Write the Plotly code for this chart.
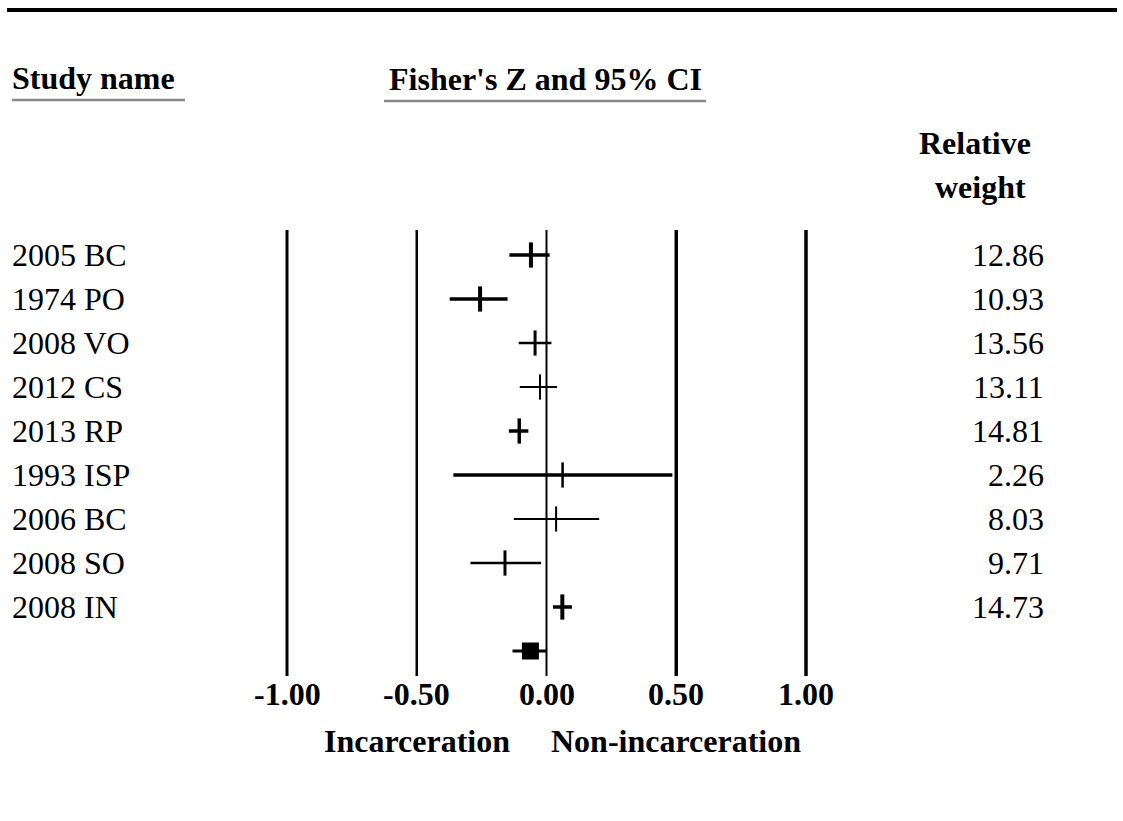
import plotly.graph_objects as go

# ---------------- data ----------------
studies = ["2005 BC", "1974 PO", "2008 VO", "2012 CS", "2013 RP",
           "1993 ISP", "2006 BC", "2008 SO", "2008 IN"]
fisher_z = [-0.060, -0.256, -0.044, -0.025, -0.105, 0.062, 0.037, -0.160, 0.061]
ci_lower = [-0.143, -0.373, -0.107, -0.103, -0.145, -0.359, -0.126, -0.293, 0.025]
ci_upper = [0.012, -0.150, 0.019, 0.041, -0.070, 0.485, 0.203, -0.021, 0.098]
rel_weight = ["12.86", "10.93", "13.56", "13.11", "14.81", "2.26", "8.03", "9.71", "14.73"]

summary_z = -0.062
summary_lower = -0.131
summary_upper = 0.001

tick_values = [-1.0, -0.5, 0.0, 0.5, 1.0]
tick_labels = ["-1.00", "-0.50", "0.00", "0.50", "1.00"]
side_labels = ["Incarceration", "Non-incarceration"]
side_positions = [-0.5, 0.5]

# ---------------- styles ----------------
ci_widths = [3.5, 3.5, 2.5, 2, 3.5, 3.5, 2, 2.5, 3.5]
pt_widths = [4, 4, 3, 2, 3.5, 2.5, 2, 3, 4]
vline_widths = [3, 2.5, 2, 3.5, 3.5]
FONT = "Liberation Serif"
W, H = 1123, 821
ROW0, ROWSTEP = 255, 44  # pixel centre of first row, row spacing


def px2y(py):
    return (py - ROW0) / ROWSTEP


def px(xp):
    return xp / W


def py(yp):
    return 1 - yp / H


fig = go.Figure()

# CI lines
for i in range(len(studies)):
    fig.add_trace(go.Scatter(
        x=[ci_lower[i], ci_upper[i]], y=[i, i], mode="lines",
        line=dict(color="black", width=ci_widths[i]), showlegend=False,
        hoverinfo="skip"))

# point estimates
for i in range(len(studies)):
    fig.add_trace(go.Scatter(
        x=[fisher_z[i]], y=[i], mode="markers",
        marker=dict(symbol="line-ns", size=18,
                    line=dict(color="black", width=pt_widths[i])),
        showlegend=False, hoverinfo="skip"))

# summary
n = len(studies)
fig.add_trace(go.Scatter(
    x=[summary_lower, summary_upper], y=[n, n], mode="lines",
    line=dict(color="black", width=3), showlegend=False, hoverinfo="skip"))
fig.add_trace(go.Scatter(
    x=[summary_z], y=[n], mode="markers",
    marker=dict(symbol="square", size=17, color="black"),
    showlegend=False, hoverinfo="skip"))

# vertical reference lines
for v, w in zip(tick_values, vline_widths):
    fig.add_shape(type="line", xref="x", yref="y", x0=v, x1=v,
                  y0=px2y(230), y1=px2y(676), layer="below",
                  line=dict(color="black", width=w))

# tick labels
for v, t in zip(tick_values, tick_labels):
    fig.add_annotation(x=v, y=px2y(694), xref="x", yref="y", text="<b>" + t + "</b>",
                       showarrow=False, xanchor="center", yanchor="middle",
                       font=dict(family=FONT, size=32, color="black"))
for v, t in zip(side_positions, side_labels):
    fig.add_annotation(x=v, y=px2y(741), xref="x", yref="y", text="<b>" + t + "</b>",
                       showarrow=False, xanchor="center", yanchor="middle",
                       font=dict(family=FONT, size=32, color="black"))

# study names and weights
for i, (s, wt) in enumerate(zip(studies, rel_weight)):
    fig.add_annotation(x=px(10), y=i, xref="paper", yref="y", text=s,
                       showarrow=False, xanchor="left", yanchor="middle",
                       font=dict(family=FONT, size=32, color="black"))
    fig.add_annotation(x=px(1046), y=i, xref="paper", yref="y", text=wt,
                       showarrow=False, xanchor="right", yanchor="middle",
                       font=dict(family=FONT, size=32, color="black"))

# headers
fig.add_annotation(x=px(10), y=py(78), xref="paper", yref="paper",
                   text="<b>Study name</b>", showarrow=False, xanchor="left",
                   yanchor="middle", font=dict(family=FONT, size=32, color="black"))
fig.add_annotation(x=px(545), y=py(79), xref="paper", yref="paper",
                   text="<b>Fisher's Z and 95% CI</b>", showarrow=False, xanchor="center",
                   yanchor="middle", font=dict(family=FONT, size=32, color="black"))
fig.add_annotation(x=px(975), y=py(143), xref="paper", yref="paper",
                   text="<b>Relative</b>", showarrow=False, xanchor="center",
                   yanchor="middle", font=dict(family=FONT, size=32, color="black"))
fig.add_annotation(x=px(980), y=py(187), xref="paper", yref="paper",
                   text="<b>weight</b>", showarrow=False, xanchor="center",
                   yanchor="middle", font=dict(family=FONT, size=32, color="black"))

# decorative rules
fig.add_shape(type="line", xref="paper", yref="paper", x0=px(7), x1=px(1117),
              y0=py(10), y1=py(10), line=dict(color="black", width=4))
fig.add_shape(type="line", xref="paper", yref="paper", x0=px(12), x1=px(185),
              y0=py(100), y1=py(100), line=dict(color="#8a8a8a", width=2.5))
fig.add_shape(type="line", xref="paper", yref="paper", x0=px(384), x1=px(706),
              y0=py(101), y1=py(101), line=dict(color="#8a8a8a", width=2.5))

# axes: -1 at 287 px, 1 at 806 px
x_lo, x_hi = -1.2, 1.2
ppu = (806 - 287) / 2.0
c0 = (806 + 287) / 2.0
fig.update_layout(
    width=W, height=H, autosize=False,
    margin=dict(l=0, r=0, t=0, b=0),
    paper_bgcolor="white", plot_bgcolor="white",
    xaxis=dict(range=[x_lo, x_hi],
               domain=[(c0 + x_lo * ppu) / W, (c0 + x_hi * ppu) / W],
               visible=False, fixedrange=True),
    yaxis=dict(range=[px2y(H), px2y(0)], domain=[0, 1],
               visible=False, fixedrange=True),
    showlegend=False,
)

fig.write_html("out.html")
